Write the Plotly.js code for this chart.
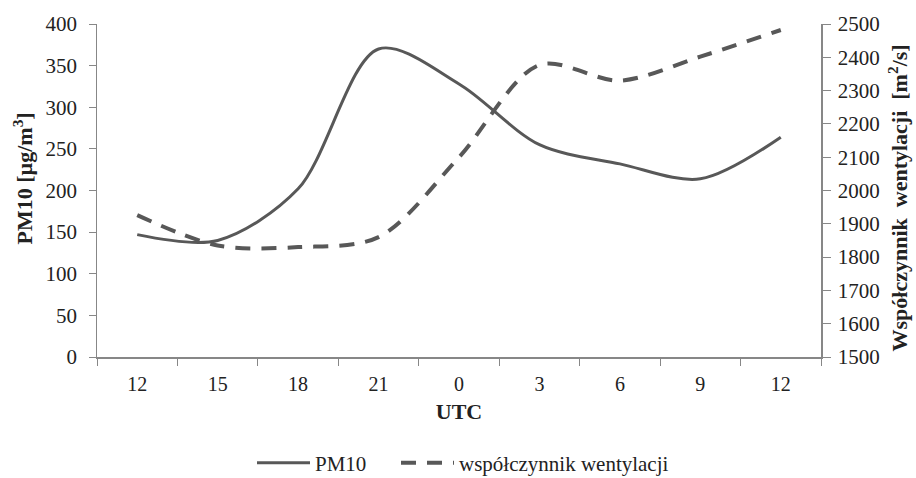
<!DOCTYPE html>
<html>
<head>
<meta charset="utf-8">
<script src="https://cdn.plot.ly/plotly-3.0.1.min.js"></script>
<style>
html,body{margin:0;padding:0;background:#fff;}
#chart{width:916px;height:478px;}
</style>
</head>
<body>
<div id="chart"></div>
<script>
const hours = ["12","15","18","21","0","3","6","9","12"];
const pm10 = [147, 140, 202, 370, 328, 255, 232, 214, 264];
const ventilation = [1926, 1835, 1830, 1860, 2100, 2377, 2330, 2402, 2482];

const idx = hours.map((h, i) => i);
const fam = "Liberation Serif, Times New Roman, serif";
const xTickFont = {family: fam, color: "#222", size: 20};
const yTickFont = {family: fam, color: "#222", size: 21};
const titleFont = {family: fam, size: 22, color: "#222", weight: "bold"};
const lineColor = "#585858";
const axisColor = "#878787";
const legendFont = {family: fam, size: 21, color: "#222"};

const traces = [
  {x: idx, y: pm10, name: "PM10", type: "scatter", mode: "lines", legend: "legend",
   line: {color: lineColor, width: 3, shape: "spline", smoothing: 0.9}, yaxis: "y"},
  {x: idx, y: ventilation, name: "współczynnik wentylacji", type: "scatter", mode: "lines", legend: "legend2",
   line: {color: lineColor, width: 4, dash: "15px,11px", shape: "spline", smoothing: 0.9}, yaxis: "y2"}
];

const layout = {
  width: 916, height: 478,
  margin: {l: 97, r: 95, t: 24, b: 121},
  paper_bgcolor: "#fff", plot_bgcolor: "#fff",
  font: xTickFont,
  showlegend: true,
  legend: {orientation: "h", x: 252 / 916, xanchor: "left", xref: "container",
           y: 0.031, yanchor: "middle", yref: "container",
           font: legendFont, itemwidth: 53},
  legend2: {orientation: "h", x: 396 / 916, xanchor: "left", xref: "container",
           y: 0.031, yanchor: "middle", yref: "container",
           font: legendFont, itemwidth: 53},
  annotations: [
    {text: "PM10 [µg/m<sup>3</sup>]", textangle: -90, showarrow: false,
     xref: "paper", yref: "paper", x: (22.5 - 97) / 724, y: (357 - 179) / 333,
     xanchor: "center", yanchor: "middle", font: titleFont},
    {text: "Współczynnik  wentylacji  [m<sup>2</sup>/s]", textangle: -90, showarrow: false,
     xref: "paper", yref: "paper", x: (897 - 97) / 724, y: (357 - 198.5) / 333,
     xanchor: "center", yanchor: "middle", font: titleFont}
  ],
  xaxis: {type: "category", tickmode: "array", tickvals: idx, ticktext: hours,
          tickson: "boundaries", range: [-0.5, 8.5], automargin: false,
          showline: true, linecolor: axisColor, linewidth: 1.5,
          ticks: "outside", ticklen: 7, tickcolor: axisColor, showgrid: false, zeroline: false,
          tickfont: xTickFont, ticklabelstandoff: 8,
          title: {text: "UTC", font: titleFont, standoff: 10}},
  yaxis: {range: [0, 400], dtick: 50, automargin: false,
          showline: true, linecolor: axisColor, linewidth: 1.5,
          ticks: "outside", ticklen: 7, tickcolor: axisColor, showgrid: false, zeroline: false,
          tickfont: yTickFont, ticksuffix: "\u00a0", ticklabelstandoff: 2},
  yaxis2: {range: [1500, 2500], dtick: 100, overlaying: "y", side: "right", automargin: false,
          showline: true, linecolor: axisColor, linewidth: 1.5,
          ticks: "outside", ticklen: 8, tickcolor: axisColor, showgrid: false, zeroline: false,
          tickfont: yTickFont, ticklabelstandoff: 3}
};

Plotly.newPlot("chart", traces, layout, {displayModeBar: false, staticPlot: true});
</script>
</body>
</html>
